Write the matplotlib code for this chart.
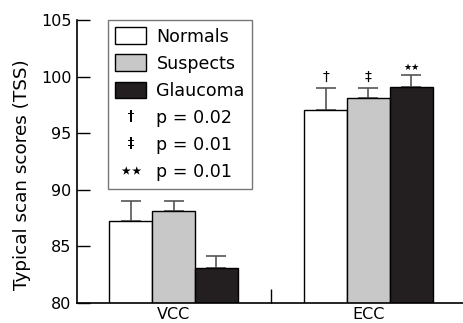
import matplotlib
matplotlib.use("Agg")
import matplotlib.pyplot as plt
from matplotlib.patches import Patch
from matplotlib.lines import Line2D
import numpy as np

groups = ["VCC", "ECC"]
series = ["Normals", "Suspects", "Glaucoma"]
means = {
    "Normals": [87.2, 97.0],
    "Suspects": [88.1, 98.1],
    "Glaucoma": [83.1, 99.1],
}
errors = {
    "Normals": [1.8, 2.0],
    "Suspects": [0.9, 0.9],
    "Glaucoma": [1.0, 1.0],
}
colors = {"Normals": "#ffffff", "Suspects": "#c8c8c8", "Glaucoma": "#231f20"}
ecc_marks = ["\u2020", "\u2021", "\u2605\u2605"]
sig_labels = ["p = 0.02", "p = 0.01", "p = 0.01"]
sig_symbols = ["$\u2020$", "$\u2021$", "$\u2605\u2605$"]

plt.rcParams['font.family'] = ['DejaVu Sans']
plt.rcParams['mathtext.fontset'] = 'dejavusans'
fig = plt.figure(figsize=(4.64, 3.23), dpi=100)
ax = fig.add_axes([0.166, 0.063, 0.834, 0.875])

x = np.arange(len(groups))
w = 0.22
for i, s in enumerate(series):
    xs = x + (i - 1) * w
    ax.bar(xs, means[s], width=w, color=colors[s], edgecolor="black", linewidth=1.0, zorder=2)
    ax.errorbar(xs, means[s], yerr=[np.zeros(len(groups)), errors[s]], fmt="none",
                ecolor="#555555", elinewidth=1.2, capsize=7, capthick=1.2, zorder=1)
    top = means[s][1] + errors[s][1]
    ax.annotate(ecc_marks[i], (xs[1], top), xytext=(0, 2.5), textcoords="offset points",
                ha="center", va="bottom", fontsize=10 if i < 2 else 6.5)

ax.set_ylim(80, 105)
ax.set_xlim(-0.495, 1.49)
ax.set_yticks([80, 85, 90, 95, 100, 105])
ax.tick_params(axis="y", direction="in", length=9.5, width=1, labelsize=11.5, pad=4)
ax.set_xticks(x)
ax.set_xticklabels(groups)
ax.tick_params(axis="x", length=0, labelsize=11.5, pad=3)
ax.set_xticks([0.5], minor=True)
ax.tick_params(axis="x", which="minor", direction="in", length=10, width=1)
ax.spines["top"].set_visible(False)
ax.spines["right"].set_visible(False)
ax.spines["left"].set_linewidth(1.2)
ax.spines["bottom"].set_linewidth(1.2)
ax.set_ylabel("Typical scan scores (TSS)", fontsize=13.2)
ax.yaxis.set_label_coords(-0.12, 0.452)

handles = [Patch(facecolor=colors[s], edgecolor="black", linewidth=1.0) for s in series]
labels = list(series)
for sym, lab in zip(sig_symbols, sig_labels):
    handles.append(Line2D([], [], linestyle="none", marker=sym, color="black",
                          markeredgewidth=0,
                          markersize=8 if "\u2605" not in sym else 14))
    labels.append(lab)
leg = ax.legend(handles, labels, loc="upper left", bbox_to_anchor=(0.08, 1.0),
                fontsize=12.6, frameon=True, fancybox=False, borderpad=0.42,
                handlelength=1.75, handleheight=1.1, handletextpad=0.6,
                labelspacing=0.5, borderaxespad=0)
leg.get_frame().set_edgecolor("#555555")
leg.get_frame().set_linewidth(1.0)

fig.savefig("out.png", dpi=100)
